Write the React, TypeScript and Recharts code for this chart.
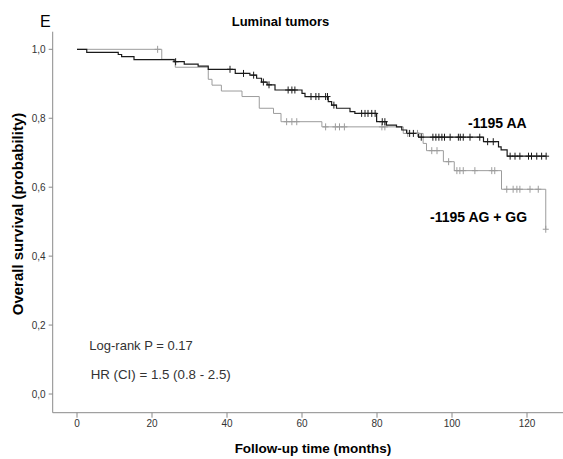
import React from "react";
import { ComposedChart, Line, XAxis, YAxis } from "recharts";

// Kaplan-Meier steps: [time (months), survival]
const aaSteps: [number, number][] = [
  [0, 1.0], [2.6, 0.991], [11.0, 0.985], [11.9, 0.979], [15.2, 0.970], [25.9, 0.964],
  [28.6, 0.957], [32.3, 0.951], [35.0, 0.942], [42.2, 0.930], [46.1, 0.925], [47.9, 0.916],
  [49.2, 0.905], [50.7, 0.897], [52.8, 0.882], [60.0, 0.872], [60.8, 0.863], [67.0, 0.848],
  [67.9, 0.838], [69.2, 0.829], [72.8, 0.819], [74.1, 0.814], [79.9, 0.790], [82.5, 0.780],
  [85.2, 0.775], [86.6, 0.766], [87.9, 0.756], [91.1, 0.745], [108.4, 0.732], [112.4, 0.717],
  [113.1, 0.708], [114.7, 0.690], [125.1, 0.690],
];
const aaCensorTimes = [
  26.3, 40.8, 44.4, 47.1, 49.7, 51.2, 56.3, 57.3, 58.1, 62.4, 63.7, 64.5, 66.3, 66.8, 68.5,
  75.9, 76.8, 77.6, 78.6, 79.5, 81.4, 82.1, 88.7, 89.7, 91.8, 94.9, 95.7, 96.5, 97.3, 98.0,
  99.5, 101.7, 102.2, 103.0, 104.8, 107.4, 109.5, 111.0, 115.5, 116.8, 118.1, 120.4, 121.2,
  122.6, 123.9, 125.1,
];

const agSteps: [number, number][] = [
  [0, 1.0], [22.6, 0.971], [26.2, 0.948], [35.0, 0.913], [36.0, 0.896], [38.5, 0.879],
  [44.0, 0.863], [48.6, 0.829], [52.4, 0.814], [54.4, 0.790], [65.3, 0.775], [87.0, 0.756],
  [92.3, 0.727], [93.2, 0.706], [97.7, 0.674], [100.6, 0.648], [113.2, 0.594], [125.0, 0.478],
];
const agCensorTimes = [
  21.5, 55.9, 57.3, 58.6, 66.3, 68.9, 70.0, 71.3, 81.3, 82.1, 88.2, 90.8, 94.6, 96.0, 99.1,
  101.3, 102.1, 103.0, 106.1, 110.6, 111.4, 114.6, 116.3, 117.3, 118.1, 120.8, 123.0, 125.0,
];

const xTicks = [0, 20, 40, 60, 80, 100, 120];
const yTicks = [0, 0.2, 0.4, 0.6, 0.8, 1.0];

const toRows = (steps: [number, number][]) => steps.map(([t, s]) => ({ t, s }));
const survAt = (steps: [number, number][], t: number) => {
  let s = steps[0][1];
  for (const [tt, ss] of steps) if (tt <= t) s = ss;
  return s;
};
const censorRows = (steps: [number, number][], times: number[]) =>
  times.map((t) => ({ t, s: survAt(steps, t) }));

const aaData = toRows(aaSteps);
const agData = toRows(agSteps);
const aaCensor = censorRows(aaSteps, aaCensorTimes);
const agCensor = censorRows(agSteps, agCensorTimes);

const AA_COLOR = "#1a1a1a";
const AG_COLOR = "#9c9c9c";
const FONT = "'Liberation Sans', Arial, sans-serif";

const plus = (color: string) => (props: any) => {
  const { cx, cy, index } = props;
  if (cx == null || cy == null) return <g key={`n${index}`} />;
  return (
    <path
      key={`c${index}`}
      d={`M${cx},${cy - 3.5}V${cy + 3.5}M${cx - 3},${cy}H${cx + 3}`}
      stroke={color}
      strokeWidth={1}
      fill="none"
    />
  );
};

const fmt = (v: number) => v.toFixed(1).replace(".", ",");

export default function App() {
  return (
    <div style={{ position: "absolute", left: 0, top: 0, width: 563, height: 459, background: "#fff" }}>
      <ComposedChart
        width={563}
        height={459}
        margin={{ top: 31.7, right: 0, bottom: 0, left: 0 }}
      >
        <XAxis
          type="number"
          dataKey="t"
          domain={[-6.48, 129.6]}
          ticks={xTicks}
          allowDataOverflow
          height={46.3}
          tickSize={5}
          tickMargin={2}
          axisLine={{ stroke: "#8a8a8a" }}
          tickLine={{ stroke: "#8a8a8a" }}
          tick={{ fontSize: 10, fill: "#333", fontFamily: FONT }}
        />
        <YAxis
          type="number"
          dataKey="s"
          domain={[-0.0542, 1.0511]}
          ticks={yTicks}
          allowDataOverflow
          width={52.7}
          tickSize={4}
          tickMargin={3}
          tickFormatter={fmt}
          axisLine={{ stroke: "#8a8a8a" }}
          tickLine={{ stroke: "#8a8a8a" }}
          tick={{ fontSize: 10, fill: "#333", fontFamily: FONT }}
        />
        <Line data={agData} dataKey="s" type="stepAfter" stroke={AG_COLOR} strokeWidth={1} dot={false} activeDot={false} isAnimationActive={false} />
        <Line data={aaData} dataKey="s" type="stepAfter" stroke={AA_COLOR} strokeWidth={1.2} dot={false} activeDot={false} isAnimationActive={false} />
        <Line data={agCensor} dataKey="s" stroke="none" dot={plus(AG_COLOR)} activeDot={false} isAnimationActive={false} />
        <Line data={aaCensor} dataKey="s" stroke="none" dot={plus(AA_COLOR)} activeDot={false} isAnimationActive={false} />
      </ComposedChart>
      <svg
        width={563}
        height={459}
        style={{ position: "absolute", left: 0, top: 0, pointerEvents: "none" }}
        fontFamily={FONT}
      >
        <text x={40} y={21.7} fontSize={16} dominantBaseline="central" fill="#000">E</text>
        <text x={231.7} y={21.7} fontSize={13} fontWeight="bold" dominantBaseline="central" fill="#000">Luminal tumors</text>
        <text x={468} y={122.7} fontSize={14} fontWeight="bold" dominantBaseline="central" fill="#000">-1195 AA</text>
        <text x={430} y={216.7} fontSize={14} fontWeight="bold" dominantBaseline="central" fill="#000">-1195 AG + GG</text>
        <text x={89.3} y={345.7} fontSize={13} dominantBaseline="central" fill="#333">Log-rank P = 0.17</text>
        <text x={90.7} y={374} fontSize={13.3} dominantBaseline="central" fill="#333">HR (CI) = 1.5 (0.8 - 2.5)</text>
        <text x={313} y={448} fontSize={13.5} fontWeight="bold" textAnchor="middle" dominantBaseline="central" fill="#000">Follow-up time (months)</text>
        <text x={17} y={214} fontSize={15} fontWeight="bold" textAnchor="middle" dominantBaseline="central" fill="#000" transform="rotate(-90 17 214)">Overall survival (probability)</text>
      </svg>
    </div>
  );
}
